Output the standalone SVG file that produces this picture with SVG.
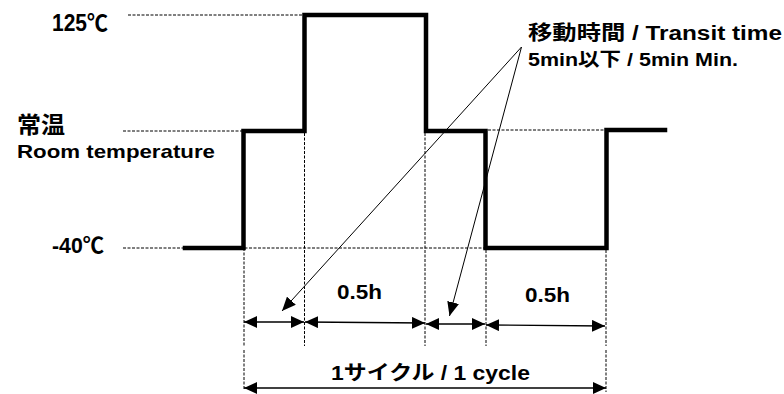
<svg xmlns="http://www.w3.org/2000/svg" width="784" height="394" viewBox="0 0 784 394">
<defs>
<style>
.wave{fill:none;stroke:#000;stroke-width:4.5;stroke-linejoin:miter;stroke-linecap:square}
.dash{fill:none;stroke:#000;stroke-width:1;stroke-dasharray:3 1.5}
.dim{fill:none;stroke:#000;stroke-width:1.3}
.lead{fill:none;stroke:#000;stroke-width:1}
.t{font-family:"Liberation Sans","Noto Sans CJK JP",sans-serif;font-weight:bold;fill:#000}
</style>
<marker id="ah" viewBox="0 0 12 12" refX="12" refY="6" markerWidth="13" markerHeight="12" markerUnits="userSpaceOnUse" orient="auto-start-reverse" preserveAspectRatio="none">
<path d="M0,0 L12,6 L0,12 Z" fill="#000"/>
</marker>
<marker id="lh" viewBox="0 0 14 12" refX="14" refY="6" markerWidth="14" markerHeight="12" markerUnits="userSpaceOnUse" orient="auto">
<path d="M0,0 L14,6 L0,12 Z" fill="#000"/>
</marker>
</defs>
<rect width="784" height="394" fill="#fff"/>
<g id="guides">
<line class="dash" x1="128" y1="15" x2="303" y2="15"/>
<line class="dash" x1="123" y1="131" x2="242" y2="131"/>
<line class="dash" x1="488" y1="130" x2="605" y2="130"/>
<line class="dash" x1="123" y1="248" x2="486" y2="248"/>
<line class="dash" x1="244" y1="248" x2="244" y2="346"/>
<line class="dash" x1="244" y1="350" x2="244" y2="390"/>
<line class="dash" x1="304.5" y1="133" x2="304.5" y2="346"/>
<line class="dash" x1="425" y1="133" x2="425" y2="346"/>
<line class="dash" x1="486" y1="250" x2="486" y2="346"/>
<line class="dash" x1="606" y1="250" x2="606" y2="346"/>
<line class="dash" x1="606" y1="350" x2="606" y2="392"/>
</g>
<g id="waveform">
<polyline class="wave" points="185,248 243.5,248 243.5,131 304.5,131 304.5,15 426,15 426,131 485.5,131 485.5,248 606.5,248 606.5,130 665,130"/>
</g>
<g id="labels">
<text class="t" x="52" y="31" font-size="23" textLength="56" lengthAdjust="spacingAndGlyphs">125℃</text>
<text class="t" x="17" y="133" font-size="23" textLength="48" lengthAdjust="spacingAndGlyphs">常温</text>
<text class="t" x="17" y="158" font-size="19" textLength="198" lengthAdjust="spacingAndGlyphs">Room temperature</text>
<text class="t" x="52" y="253" font-size="22" textLength="52" lengthAdjust="spacingAndGlyphs">-40℃</text>
<text class="t" x="528" y="40" font-size="20" textLength="254" lengthAdjust="spacingAndGlyphs">移動時間 / Transit time</text>
<text class="t" x="528" y="66" font-size="19" textLength="210" lengthAdjust="spacingAndGlyphs">5min以下 / 5min  Min.</text>
<text class="t" x="337" y="299" font-size="20" textLength="45" lengthAdjust="spacingAndGlyphs">0.5h</text>
<text class="t" x="525" y="302" font-size="20" textLength="45" lengthAdjust="spacingAndGlyphs">0.5h</text>
<text class="t" x="331" y="380" font-size="20" textLength="199" lengthAdjust="spacingAndGlyphs">1サイクル / 1 cycle</text>
</g>
<g id="connectors">
<line class="dim" x1="244" y1="322" x2="304" y2="322" marker-start="url(#ah)" marker-end="url(#ah)"/>
<line class="dim" x1="305" y1="322" x2="425" y2="323" marker-start="url(#ah)" marker-end="url(#ah)"/>
<line class="dim" x1="426" y1="324" x2="485" y2="324" marker-start="url(#ah)" marker-end="url(#ah)"/>
<line class="dim" x1="486" y1="325" x2="605" y2="326" marker-start="url(#ah)" marker-end="url(#ah)"/>
<line class="dim" x1="244" y1="388" x2="606" y2="388" marker-start="url(#ah)" marker-end="url(#ah)"/>
<line class="lead" x1="521.5" y1="47" x2="282" y2="311" marker-end="url(#lh)"/>
<line class="lead" x1="521.5" y1="47" x2="449.5" y2="316" marker-end="url(#lh)"/>
</g>
</svg>
